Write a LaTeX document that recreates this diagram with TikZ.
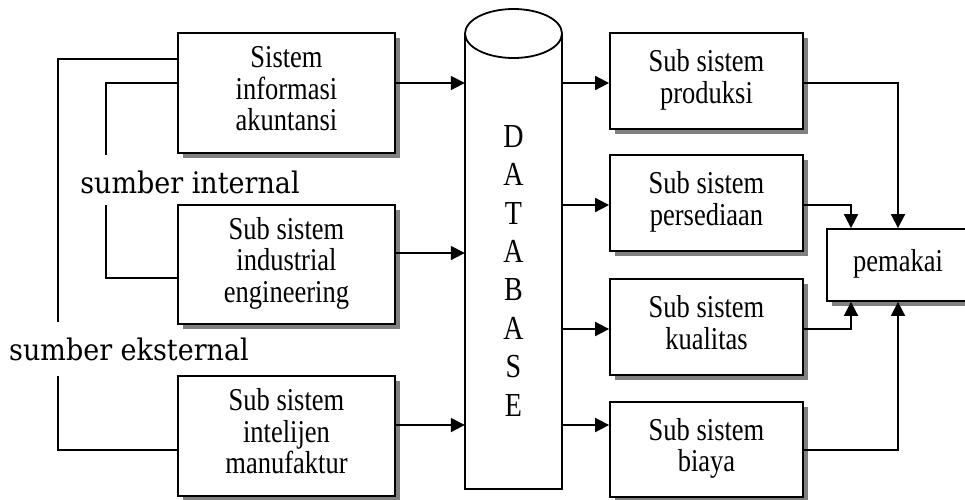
\documentclass[tikz,border=0pt]{standalone}
\usepackage{graphicx}
\usepackage{fontspec}
\setmainfont{Liberation Serif}
\newfontfamily\labfont{DejaVu Serif}
\usetikzlibrary{arrows.meta,shadows}
\newcommand{\btext}[1]{\scalebox{1}[1.2]{\fontsize{26.5}{26}\selectfont\begin{tabular}{@{}c@{}}#1\end{tabular}}}
\newcommand{\labtext}[1]{\scalebox{1}[1.1]{\labfont\fontsize{27}{27}\selectfont #1}}
\tikzset{
  box/.style={draw, line width=1.8pt, fill=white, minimum width=217pt, minimum height=120pt, inner sep=0pt,
    drop shadow={shadow xshift=5pt, shadow yshift=-5pt, fill=black!50, opacity=1}},
  rbox/.style={box, minimum width=193pt, minimum height=96pt},
  conn/.style={line width=1.8pt},
  arr/.style={conn, -{Triangle[length=14pt,width=14pt]}},
  lab/.style={inner sep=0pt}
}
\begin{document}
\begin{tikzpicture}[x=1pt,y=-1pt]
\path[use as bounding box] (0,0) rectangle (965,499);
\clip (0,0) rectangle (965,499);
\fill[white] (0,0) rectangle (965,499);

% left boxes
\node[box] (b1) at (286.5,93) {\btext{Sistem\\informasi\\akuntansi}};
\node[box, minimum height=119pt] (b2) at (286.5,264.5) {\btext{Sub sistem\\industrial\\engineering}};
\node[box] (b3) at (286.5,436) {\btext{Sub sistem\\intelijen\\manufaktur}};

% database cylinder
\node[minimum width=97pt, minimum height=480pt, inner sep=0pt] (db) at (513.5,261) {};
\draw[conn, fill=white] (465,33.5) -- (465,489) -- (562,489) -- (562,33.5);
\draw[conn, fill=white] (513.5,33.5) ellipse [x radius=48.5pt, y radius=24.5pt];
\node[inner sep=0pt] (dbtext) at (513.5,274) {\scalebox{1}[1.2]{\fontsize{28}{32}\selectfont\begin{tabular}{@{}c@{}}D\\A\\T\\A\\B\\A\\S\\E\end{tabular}}};

% right boxes
\node[rbox] (r1) at (706.5,81) {\btext{Sub sistem\\produksi}};
\node[rbox] (r2) at (706.5,203) {\btext{Sub sistem\\persediaan}};
\node[rbox] (r3) at (706.5,327) {\btext{Sub sistem\\kualitas}};
\node[rbox, minimum height=95pt] (r4) at (706.5,449.5) {\btext{Sub sistem\\biaya}};

% user
\node[box, minimum width=142pt, minimum height=72pt] (pm) at (898,265) {\btext{pemakai}};

% source labels
\node[lab] (int) at (190,182) {\labtext{sumber internal}};
\node[lab] (ext) at (129,349) {\labtext{sumber eksternal}};
\coordinate (intTop) at (106,155);
\coordinate (intBot) at (106,205);
\coordinate (extTop) at (58,322);
\coordinate (extBot) at (58,376);

% source lines
\draw[conn] (b1.west |- 0,59) -| (extTop);
\draw[conn] (extBot) |- (b3.west |- 0,450);
\draw[conn] (b1.west |- 0,83) -| (intTop);
\draw[conn] (intBot) |- (b2.west |- 0,278);

% into database
\draw[arr] (b1.east |- 0,83) -- (db.west |- 0,83);
\draw[arr] (b2.east |- 0,253) -- (db.west |- 0,253);
\draw[arr] (b3.east |- 0,425) -- (db.west |- 0,425);

% database to subsystems
\draw[arr] (db.east |- 0,83) -- (r1.west |- 0,83);
\draw[arr] (db.east |- 0,205) -- (r2.west |- 0,205);
\draw[arr] (db.east |- 0,329) -- (r3.west |- 0,329);
\draw[arr] (db.east |- 0,425) -- (r4.west |- 0,425);

% subsystems to user
\draw[arr] (r1.east |- 0,83) -| (pm.north);
\draw[arr] (r2.east |- 0,205) -| (pm.north -| 851,0);
\draw[arr] (r3.east |- 0,329) -| (pm.south -| 851,0);
\draw[arr] (r4.east |- 0,450) -| (pm.south);
\end{tikzpicture}
\end{document}
